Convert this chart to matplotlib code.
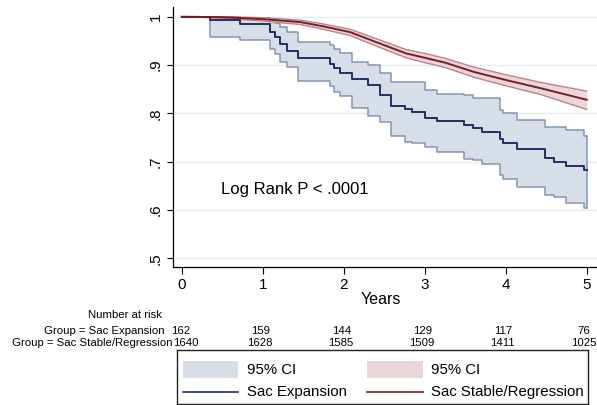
import matplotlib
matplotlib.use("Agg")
import matplotlib.pyplot as plt
from matplotlib.transforms import blended_transform_factory, offset_copy
from matplotlib.patches import Rectangle

plt.rcParams['font.family'] = ['Liberation Sans', 'DejaVu Sans']

# ---------------- data ----------------
# Sac Expansion (Kaplan-Meier steps)
exp_times = [0, 0.35, 0.72, 1.09, 1.15, 1.21, 1.30, 1.44, 1.83, 1.88, 1.95, 2.10, 2.30, 2.45,
             2.59, 2.76, 2.84, 3.00, 3.15, 3.48, 3.60, 3.71, 3.93, 3.97, 4.14, 4.48, 4.59, 4.75, 4.97]
exp_surv = [1.0, 0.994, 0.984, 0.969, 0.958, 0.944, 0.929, 0.914, 0.903, 0.893, 0.883, 0.871, 0.859, 0.838,
            0.816, 0.809, 0.803, 0.791, 0.784, 0.776, 0.769, 0.762, 0.746, 0.738, 0.727, 0.707, 0.700, 0.691, 0.683]
exp_upper = [1.0, 1.0, 0.997, 0.992, 0.986, 0.979, 0.968, 0.948, 0.941, 0.934, 0.925, 0.907, 0.900, 0.883,
             0.865, 0.865, 0.865, 0.848, 0.841, 0.838, 0.831, 0.831, 0.807, 0.800, 0.786, 0.772, 0.772, 0.765, 0.752]
exp_lower = [1.0, 0.959, 0.951, 0.934, 0.923, 0.906, 0.896, 0.866, 0.857, 0.845, 0.835, 0.812, 0.795, 0.782,
             0.752, 0.740, 0.738, 0.731, 0.720, 0.706, 0.703, 0.696, 0.672, 0.665, 0.648, 0.631, 0.626, 0.614, 0.603]

# Sac Stable/Regression
reg_times = [0, 0.5, 1.0, 1.46, 1.75, 2.08, 2.36, 2.77, 3.0, 3.25, 3.6, 4.0, 4.43, 5.0]
reg_surv = [1.0, 0.999, 0.995, 0.989, 0.980, 0.968, 0.950, 0.924, 0.915, 0.905, 0.886, 0.869, 0.852, 0.828]
reg_upper = [1.0, 1.0, 0.998, 0.993, 0.985, 0.974, 0.957, 0.932, 0.924, 0.914, 0.896, 0.880, 0.864, 0.846]
reg_lower = [1.0, 0.997, 0.991, 0.984, 0.974, 0.961, 0.942, 0.915, 0.905, 0.895, 0.875, 0.857, 0.839, 0.808]

follow_up_end = 5.0

risk_times = [0, 1, 2, 3, 4, 5]
risk_expansion = [162, 159, 144, 129, 117, 76]
risk_stable = [1640, 1628, 1585, 1509, 1411, 1025]

y_ticks = [0.5, 0.6, 0.7, 0.8, 0.9, 1.0]
y_tick_labels = ['.5', '.6', '.7', '.8', '.9', '1']
x_ticks = [0, 1, 2, 3, 4, 5]

# ---------------- colours ----------------
blue_line = '#1f2f63'
blue_fill = '#d8dee8'
blue_edge = '#8497b8'
red_line = '#7a1c24'
red_fill = '#e9d6d8'
red_edge = '#b98589'
grid_col = '#e2ecf0'

W, H = 597, 405
fig = plt.figure(figsize=(W / 100, H / 100), dpi=100)

def fx(px):
    return px / W

def fy(py):
    return 1 - py / H

ax = fig.add_axes([fx(172.7), fy(266.7), fx(597 - 172.7), (266.7 - 7) / H])
ax.set_xlim(-0.111, 5.127)
ax.set_ylim(0.4824, 1.0201)

for v in y_ticks:
    ax.axhline(v, color=grid_col, lw=1.0, zorder=0)

# expansion CI + line
et = exp_times + [follow_up_end]
es = exp_surv + [exp_surv[-1]]
eu = exp_upper + [exp_upper[-1]]
el = exp_lower + [exp_lower[-1]]
ax.fill_between(et, el, eu, step='post', color=blue_fill, lw=0, zorder=1)
ax.step(et, eu, where='post', color=blue_edge, lw=1.1, zorder=2)
ax.step(et, el, where='post', color=blue_edge, lw=1.1, zorder=2)
ax.plot([follow_up_end, follow_up_end], [el[-1], eu[-1]], color=blue_edge, lw=1.1, zorder=2)

# stable CI + line
ax.fill_between(reg_times, reg_lower, reg_upper, color=red_fill, lw=0, zorder=3)
ax.plot(reg_times, reg_upper, color=red_edge, lw=1.0, zorder=4)
ax.plot(reg_times, reg_lower, color=red_edge, lw=1.0, zorder=4)
ax.plot(reg_times, reg_surv, color=red_line, lw=1.4, zorder=6)

ax.step(et, es, where='post', color=blue_line, lw=1.4, zorder=5)

ax.set_yticks(y_ticks)
ax.set_yticklabels(y_tick_labels, rotation=90, va='center', fontsize=11)
ax.set_xticks(x_ticks)
ax.set_xticklabels([str(t) for t in x_ticks], fontsize=11)
ax.tick_params(axis='y', length=4, width=0.8, pad=3)
ax.tick_params(axis='x', length=5, width=0.8, pad=3)
for s in ['top', 'right']:
    ax.spines[s].set_visible(False)
for s in ['left', 'bottom']:
    ax.spines[s].set_linewidth(0.9)

ax.text(0.49, 0.643, 'Log Rank P < .0001', fontsize=12, va='center', ha='left')

fig.text(fx(381), fy(300), 'Years', fontsize=11.5, ha='center', va='center')

# number at risk table
fs_tab = 8.2
fig.text(fx(162), fy(315), 'Number at risk', fontsize=fs_tab, ha='right', va='center')
fig.text(fx(164), fy(330.7), 'Group = Sac Expansion', fontsize=fs_tab, ha='right', va='center')
fig.text(fx(173), fy(343.3), 'Group = Sac Stable/Regression', fontsize=fs_tab, ha='right', va='center')
tr = blended_transform_factory(ax.transData, fig.transFigure)
for i, (t, a, b) in enumerate(zip(risk_times, risk_expansion, risk_stable)):
    if i == 0:
        tra = offset_copy(tr, fig=fig, x=-1.0, units='dots')
        trb = offset_copy(tr, fig=fig, x=4.5, units='dots')
    else:
        tra = offset_copy(tr, fig=fig, x=-2.5, units='dots')
        trb = offset_copy(tr, fig=fig, x=-3.0, units='dots')
    ax.text(t, fy(330.7), str(a), transform=tra, fontsize=fs_tab, ha='center', va='center', clip_on=False)
    ax.text(t, fy(343.3), str(b), transform=trb, fontsize=fs_tab, ha='center', va='center', clip_on=False)

# legend box
lg = fig.add_axes([fx(177), fy(404), fx(588 - 177), (404 - 350) / H])
lg.set_xlim(177, 588)
lg.set_ylim(404, 350)
lg.set_xticks([])
lg.set_yticks([])
for s in lg.spines.values():
    s.set_linewidth(1.0)
    s.set_color('#222222')
fs_leg = 10.8
lg.add_patch(Rectangle((183, 361), 55, 17, color=blue_fill, lw=0))
lg.add_patch(Rectangle((367, 361), 56, 17, color=red_fill, lw=0))
lg.text(247, 370, '95% CI', fontsize=fs_leg, va='center', ha='left')
lg.text(431, 370, '95% CI', fontsize=fs_leg, va='center', ha='left')
lg.plot([183, 238], [391.7, 391.7], color=blue_line, lw=1.2)
lg.plot([367, 423], [391.7, 391.7], color=red_line, lw=1.2)
lg.text(247, 391.7, 'Sac Expansion', fontsize=fs_leg, va='center', ha='left')
lg.text(431, 391.7, 'Sac Stable/Regression', fontsize=fs_leg, va='center', ha='left')

fig.savefig('out.png', dpi=100)
